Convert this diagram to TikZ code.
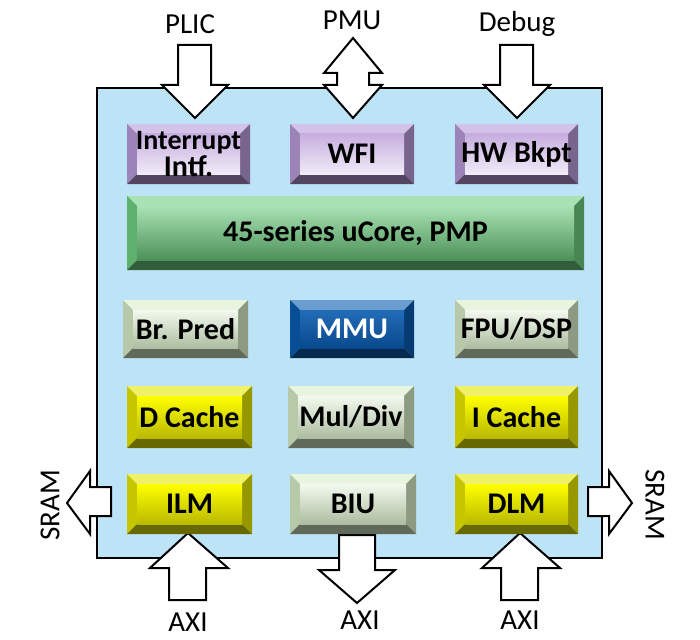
\documentclass[tikz,border=0pt]{standalone}
\usepackage{fontspec}
\setmainfont{Carlito}
\begin{document}
\begin{tikzpicture}[x=1pt,y=-1pt,
  lbl/.style={font=\fontsize{30}{24}\selectfont\bfseries,align=center,inner sep=0pt},
  ext/.style={font=\fontsize{29}{30}\selectfont,inner sep=0pt},
  arr/.style={draw=black,line width=2pt,fill=white,line join=miter}]
\useasboundingbox (0,0) rectangle (700,639);
\newcommand\bev[9]{%
  \fill[#6!60!white] (#2,#3)--(#4,#3)--(#4-10,#3+10)--(#2+10,#3+10)--cycle;
  \fill[#6!85!black] (#2,#3)--(#2+10,#3+10)--(#2+10,#5-10)--(#2,#5)--cycle;
  \fill[#6!65!black] (#4,#3)--(#4-10,#3+10)--(#4-10,#5-10)--(#4,#5)--cycle;
  \fill[#6!45!black] (#2,#5)--(#2+10,#5-10)--(#4-10,#5-10)--(#4,#5)--cycle;
  \shade[top color=#7,bottom color=#8] (#2+10,#3+10) rectangle (#4-10,#5-10);
  \node[lbl] (#1) at ({(#2+#4)/2},{(#3+#5)/2}) {#9};}
\definecolor{bg}{HTML}{BDE3F7}
\definecolor{pur}{HTML}{B89AD8}
\definecolor{grn}{HTML}{6FCF80}
\definecolor{lgr}{HTML}{D8ECC8}
\definecolor{blu}{HTML}{0A5CB0}
\definecolor{yel}{HTML}{E8E800}
\draw[fill=bg,line width=2.5pt] (97,88) rectangle (602,558);
% top arrows
\draw[arr] (178,45)--(211,45)--(211,85)--(228,85)--(195,118)--(162,85)--(178,85)--cycle;
\draw[arr] (500,45)--(533,45)--(533,85)--(550,85)--(517,118)--(484,85)--(500,85)--cycle;
\draw[arr] (353,38)--(382,73)--(369,73)--(369,85)--(382,85)--(353,118)--(324,85)--(337,85)--(337,73)--(324,73)--cycle;
% bottom arrows
\draw[arr] (188,533)--(228,568)--(206,568)--(206,600)--(169,600)--(169,568)--(150,568)--cycle;
\draw[arr] (520,533)--(560,568)--(538,568)--(538,600)--(501,600)--(501,568)--(482,568)--cycle;
\draw[arr] (339,535)--(375,535)--(375,570)--(395,570)--(357,603)--(319,570)--(339,570)--cycle;
% side arrows
\draw[arr] (111,487)--(90,487)--(90,471)--(67,503)--(90,534)--(90,516)--(111,516)--cycle;
\draw[arr] (588,487)--(609,487)--(609,471)--(632,503)--(609,534)--(609,516)--(588,516)--cycle;
% boxes
\bev{intr}{127}{124}{250}{184}{pur}{pur!80}{pur!20!white}{\fontsize{28}{22}\selectfont Interrupt\\Intf.}
\bev{wfi}{290}{124}{414}{184}{pur}{pur!80}{pur!20!white}{WFI}
\bev{hwb}{455}{124}{578}{184}{pur}{pur!80}{pur!20!white}{HW Bkpt}
\bev{core}{127}{196}{584}{270}{grn}{grn!60!white}{grn!70!black}{45-series uCore, PMP}
\bev{bp}{123}{300}{248}{358}{lgr}{lgr!30!white}{lgr!80!black}{Br. Pred}
\bev{mmu}{290}{300}{414}{358}{blu}{blu!90!white}{blu!80!black}{\textcolor{white}{MMU}}
\bev{fpu}{455}{300}{578}{358}{lgr}{lgr!30!white}{lgr!80!black}{FPU/DSP}
\bev{dc}{127}{386}{252}{448}{yel}{yellow}{yel!80!black}{D Cache}
\bev{md}{288}{386}{414}{448}{lgr}{lgr!30!white}{lgr!80!black}{Mul/Div}
\bev{ic}{455}{386}{578}{448}{yel}{yellow}{yel!80!black}{I Cache}
\bev{ilm}{127}{474}{252}{534}{yel}{yellow}{yel!80!black}{ILM}
\bev{biu}{290}{474}{416}{534}{lgr}{lgr!30!white}{lgr!80!black}{BIU}
\bev{dlm}{455}{474}{578}{534}{yel}{yellow}{yel!80!black}{DLM}
% labels
\node[ext] (plic) at (190,24) {PLIC};
\node[ext] (pmu) at (352,20) {PMU};
\node[ext] (dbg) at (517,24) {Debug};
\node[ext] (axi1) at (188,622) {AXI};
\node[ext] (axi2) at (360,620) {AXI};
\node[ext] (axi3) at (520,620) {AXI};
\node[ext,rotate=90] (sraml) at (50,505) {SRAM};
\node[ext,rotate=-90] (sramr) at (655,505) {SRAM};
\end{tikzpicture}
\end{document}
